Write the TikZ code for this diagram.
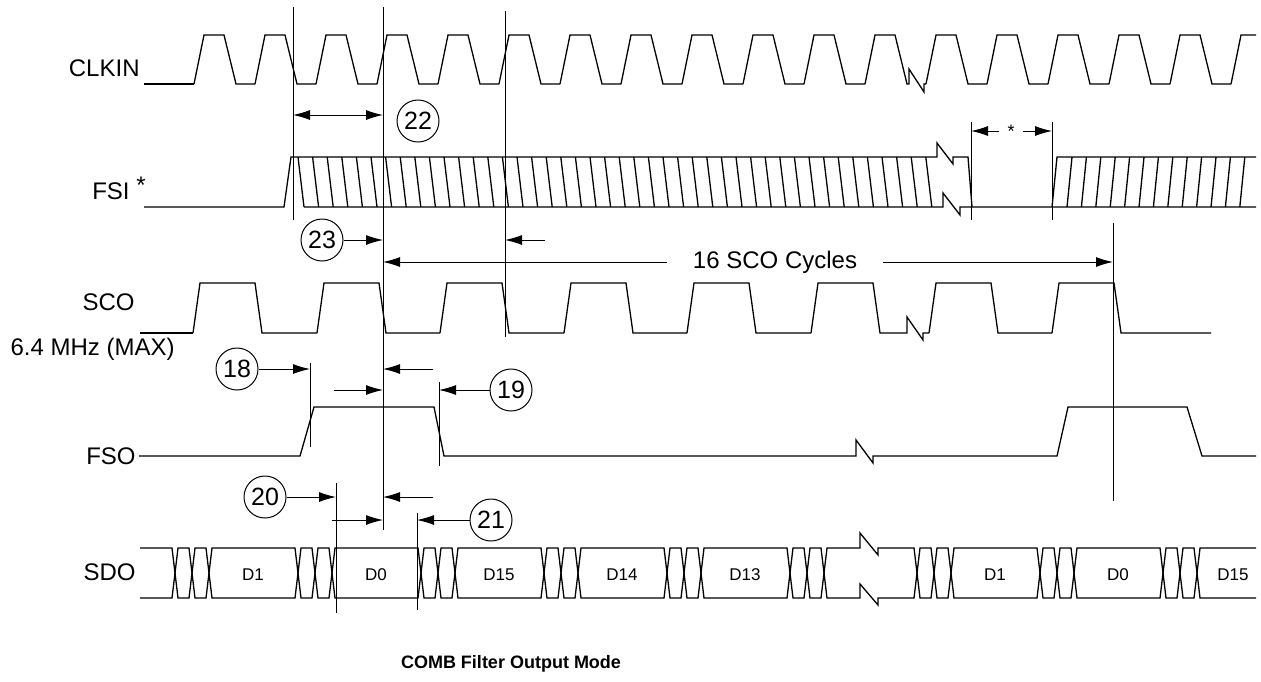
\documentclass[tikz,border=0pt]{standalone}
\usepackage{fontspec}
\setmainfont{Liberation Sans}
\usetikzlibrary{arrows.meta}

\begin{document}
\begin{tikzpicture}[x=0.5pt,y=-0.5pt,
  wave/.style={line width=0.65pt, line join=miter},
  tickline/.style={line width=0.5pt},
  dimarr/.style={line width=0.5pt, -{Latex[length=8.5pt,width=5pt]}},
  numcirc/.style={draw, circle, line width=0.5pt, minimum size=21pt, inner sep=0pt, font=\fontsize{12.5}{14}\selectfont},
  siglabel/.style={anchor=east, inner sep=0pt, font=\fontsize{12}{14}\selectfont},
  bitlabel/.style={inner sep=0pt, font=\fontsize{8.5}{10}\selectfont}]
\useasboundingbox (0,0) rectangle (1261,681);

% signal names
\node[siglabel] (clkin) at (140,68) {CLKIN};
\node[siglabel] (fsi) at (146,188) {FSI \raisebox{3pt}{*}};
\node[siglabel] (sco) at (135,302) {SCO};
\node[siglabel] (rate) at (175,349) {6.4 MHz (MAX)};
\node[siglabel] (fso) at (136,456) {FSO};
\node[siglabel] (sdo) at (136,572) {SDO};

% CLKIN
\draw[wave] (144,84) -- (194,84);
\foreach \r in {194,255,...,804}
  \draw[wave] (\r,84) -- ++(10,-49) -- ++(20,0) -- ++(12,49) -- ++(19,0);
\draw[wave] (865,84) -- ++(10,-49) -- ++(20,0) -- ++(12,49) -- (909,84) -- (909,69) -- (924,92) -- (924,84) -- (926,84);
\foreach \r in {926,987,...,1170}
  \draw[wave] (\r,84) -- ++(10,-49) -- ++(20,0) -- ++(12,49) -- ++(19,0);
\draw[wave] (1231,84) -- ++(10,-49) -- (1256,35);

% FSI
\draw[wave] (144,207) -- (284,207) -- (291,157) -- (937,157) -- (937,143) -- (953,164) -- (953,157) -- (968,157) -- (972,207);
\draw[wave] (304,207) -- (943,207) -- (943,193) -- (960,215) -- (960,207) -- (1256,207);
\draw[wave] (1052,207) -- (1057,157) -- (1256,157);
\foreach \i in {0,...,43}
  \draw[wave] (298+14.6*\i,157) -- (304+14.6*\i,207);
\foreach \j in {0,...,12}
  \draw[wave] (1067+14.4*\j,207) -- (1072+14.4*\j,157);

% SCO
\draw[wave] (140,333) -- (193,333);
\foreach \r/\n in {193/317,317/440,440/564,564/687,687/811,929/1052}
  \draw[wave] (\r,333) -- ++(7,-50) -- ++(55,0) -- ++(7,50) -- (\n,333);
\draw[wave] (811,333) -- ++(7,-50) -- ++(55,0) -- ++(7,50) -- (907,333) -- (907,317) -- (923,340) -- (923,333) -- (929,333);
\draw[wave] (1052,333) -- ++(7,-50) -- ++(55,0) -- ++(7,50) -- (1211,333);

% FSO
\draw[wave] (139,456) -- (300,456) -- (314,407) -- (434,407) -- (444,456) -- (856,456) -- (856,440) -- (873,463) -- (873,456)
  -- (1057,456) -- (1068,407) -- (1187,407) -- (1202,456) -- (1256,456);

% SDO
\draw[wave] (140,548) -- (172,548) -- (175,573) -- (172,598) -- (140,598);
\foreach \a/\b in {175/192,192/209,209/298,298/315,315/332,332/421,421/438,438/455,455/544,544/561,561/578,
    578/667,667/684,684/701,701/790,790/807,807/824,917/934,934/951,951/1040,1040/1057,1057/1074,
    1074/1163,1163/1180,1180/1197}
  \draw[wave] (\a,573) -- (\a+3,548) -- (\b-3,548) -- (\b,573) -- (\b-3,598) -- (\a+3,598) -- cycle;
\draw[wave] (824,573) -- (827,548) -- (860,548) -- (860,533) -- (878,555) -- (878,548) -- (914,548) -- (917,573)
  -- (914,598) -- (878,598) -- (878,605) -- (860,584) -- (860,598) -- (827,598) -- cycle;
\draw[wave] (1256,548) -- (1200,548) -- (1197,573) -- (1200,598) -- (1256,598);
\foreach \x/\t in {253/D1,376/D0,499/D15,622/D14,745/D13,995/D1,1118/D0,1233/D15}
  \node[bitlabel] (bit\x) at (\x,575) {\t};

% timing marks
\draw[tickline] (293,7) -- (293,220);
\draw[tickline] (383,7) -- (383,530);
\draw[tickline] (505,11) -- (505,337);
\draw[tickline] (971,122) -- (971,220);
\draw[tickline] (1052,122) -- (1052,220);
\draw[tickline] (1113,223) -- (1113,501);
\draw[tickline] (310,363) -- (310,447);
\draw[tickline] (439,382) -- (439,466);
\draw[tickline] (336,483) -- (336,613);
\draw[tickline] (417,513) -- (417,610);

% 22
\coordinate (t22a) at (293,115);
\coordinate (t22b) at (383,115);
\draw[dimarr, {Latex[length=8.5pt,width=5pt]}-{Latex[length=8.5pt,width=5pt]}] (t22a) -- (t22b);
\node[numcirc] (n22) at (418,121) {22};

% star gap
\node[inner xsep=4pt, inner ysep=0pt, font=\fontsize{9}{10}\selectfont] (ast) at (1011,131) {\raisebox{-3pt}{*}};
\coordinate (sta) at (971,131);
\coordinate (stb) at (1052,131);
\draw[dimarr] (ast) -- (sta);
\draw[dimarr] (ast) -- (stb);

% 23
\node[numcirc] (n23) at (322,240) {23};
\coordinate (t23a) at (383,240);
\coordinate (t23b) at (545,240);
\coordinate (t23c) at (505,240);
\draw[dimarr] (n23) -- (t23a);
\draw[dimarr] (t23b) -- (t23c);

% 16 SCO cycles
\node[inner xsep=13pt, inner ysep=0pt, font=\fontsize{12}{14}\selectfont] (cyc) at (775,262) {16 SCO Cycles};
\coordinate (cyca) at (383,262);
\coordinate (cycb) at (1113,262);
\draw[dimarr] (cyc) -- (cyca);
\draw[dimarr] (cyc) -- (cycb);

% 18, 19
\node[numcirc] (n18) at (237,369) {18};
\coordinate (t18a) at (310,369);
\coordinate (t18b) at (433,369);
\coordinate (t18c) at (383,369);
\draw[dimarr] (n18) -- (t18a);
\draw[dimarr] (t18b) -- (t18c);
\coordinate (t19a) at (334,390);
\coordinate (t19b) at (383,390);
\coordinate (t19c) at (439,390);
\draw[dimarr] (t19a) -- (t19b);
\node[numcirc] (n19) at (511,390) {19};
\draw[dimarr] (n19) -- (t19c);

% 20, 21
\node[numcirc] (n20) at (265,497) {20};
\coordinate (t20a) at (336,497);
\coordinate (t20b) at (433,497);
\coordinate (t20c) at (383,497);
\draw[dimarr] (n20) -- (t20a);
\draw[dimarr] (t20b) -- (t20c);
\coordinate (t21a) at (332,520);
\coordinate (t21b) at (383,520);
\coordinate (t21c) at (417,520);
\draw[dimarr] (t21a) -- (t21b);
\node[numcirc] (n21) at (491,520) {21};
\draw[dimarr] (n21) -- (t21c);

\node[font=\bfseries\fontsize{9}{11}\selectfont] (title) at (511,664) {COMB Filter Output Mode};
\end{tikzpicture}
\end{document}
